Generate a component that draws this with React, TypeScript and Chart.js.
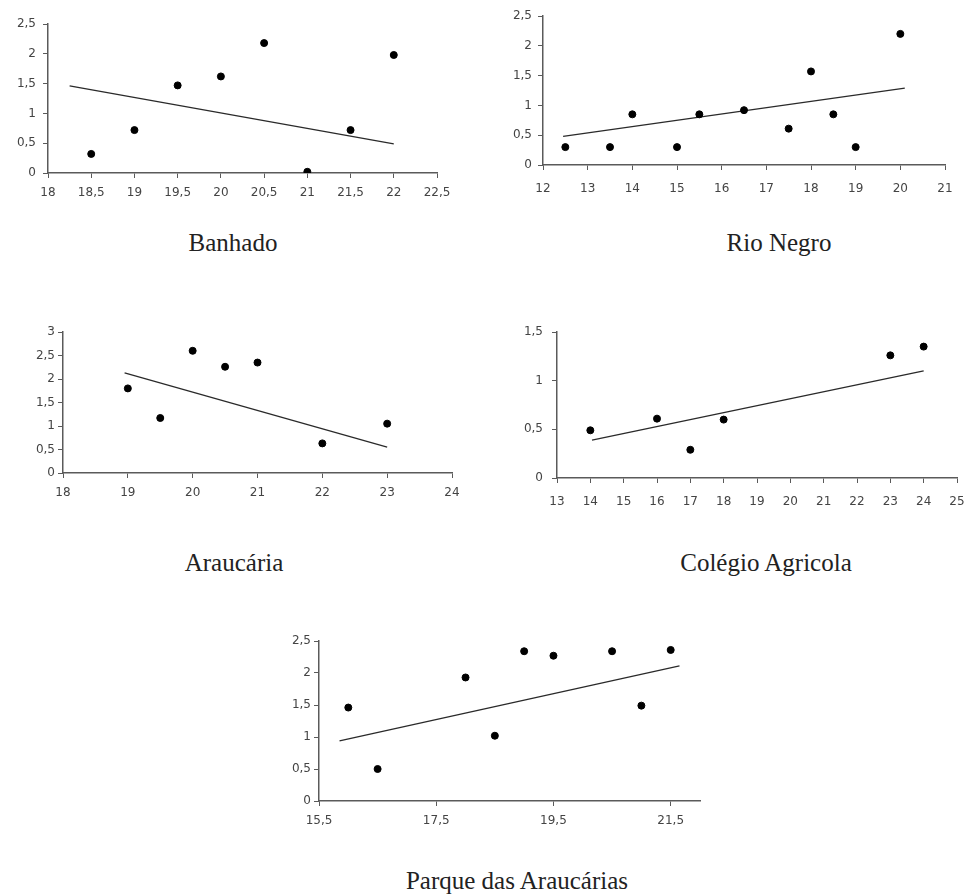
import React, { useEffect, useRef } from "react";
import { Chart, registerables } from "chart.js";

Chart.register(...registerables);

// ---------- Data ----------
// Banhado
const banhadoX = [18.5, 19, 19.5, 20, 20.5, 21, 21.5, 22];
const banhadoY = [0.32, 0.72, 1.47, 1.62, 2.18, 0.02, 0.72, 1.98];
const banhadoTrendX = [18.25, 22];
const banhadoTrendY = [1.46, 0.49];
const banhadoXTicks = [18, 18.5, 19, 19.5, 20, 20.5, 21, 21.5, 22, 22.5];
const banhadoYTicks = [0, 0.5, 1, 1.5, 2, 2.5];

// Rio Negro
const rioNegroX = [12.5, 13.5, 14, 15, 15.5, 16.5, 17.5, 18, 18.5, 19, 20];
const rioNegroY = [0.3, 0.3, 0.85, 0.3, 0.85, 0.92, 0.61, 1.57, 0.85, 0.3, 2.2];
const rioNegroTrendX = [12.45, 20.1];
const rioNegroTrendY = [0.48, 1.29];
const rioNegroXTicks = [12, 13, 14, 15, 16, 17, 18, 19, 20, 21];
const rioNegroYTicks = [0, 0.5, 1, 1.5, 2, 2.5];

// Araucária
const araucariaX = [19, 19.5, 20, 20.5, 21, 22, 23];
const araucariaY = [1.8, 1.17, 2.6, 2.26, 2.35, 0.63, 1.05];
const araucariaTrendX = [18.95, 23.0];
const araucariaTrendY = [2.13, 0.55];
const araucariaXTicks = [18, 19, 20, 21, 22, 23, 24];
const araucariaYTicks = [0, 0.5, 1, 1.5, 2, 2.5, 3];

// Colégio Agrícola
const colegioX = [14, 16, 17, 18, 23, 24];
const colegioY = [0.49, 0.61, 0.29, 0.6, 1.26, 1.35];
const colegioTrendX = [14.05, 24.0];
const colegioTrendY = [0.39, 1.1];
const colegioXTicks = [13, 14, 15, 16, 17, 18, 19, 20, 21, 22, 23, 24, 25];
const colegioYTicks = [0, 0.5, 1, 1.5];

// Parque das Araucárias
const parqueX = [16, 16.5, 18, 18.5, 19, 19.5, 20.5, 21, 21.5];
const parqueY = [1.46, 0.5, 1.93, 1.02, 2.34, 2.27, 2.34, 1.49, 2.36];
const parqueTrendX = [15.85, 21.65];
const parqueTrendY = [0.94, 2.11];
const parqueXTicks = [15.5, 17.5, 19.5, 21.5];
const parqueXRange = [15.5, 22];
const parqueYTicks = [0, 0.5, 1, 1.5, 2, 2.5];

// ---------- Layout ----------
const YW = 45; // fixed y-axis width
const XH = 34; // fixed x-axis height
const PT = 10; // top padding

type Panel = {
  title: string;
  xs: number[];
  ys: number[];
  tx: number[];
  ty: number[];
  xTicks: number[];
  yTicks: number[];
  xRange?: number[];
  area: [number, number, number, number]; // left, top, right, bottom of plot area
  padRight: number;
  xLabelPad: number;
  yLabelPad: number;
  captionX: number;
  captionY: number;
};

const panels: Panel[] = [
  {
    title: "Banhado",
    xs: banhadoX, ys: banhadoY, tx: banhadoTrendX, ty: banhadoTrendY,
    xTicks: banhadoXTicks, yTicks: banhadoYTicks,
    area: [48, 24, 437, 173], padRight: 14, xLabelPad: 8, yLabelPad: 7,
    captionX: 233, captionY: 243,
  },
  {
    title: "Rio Negro",
    xs: rioNegroX, ys: rioNegroY, tx: rioNegroTrendX, ty: rioNegroTrendY,
    xTicks: rioNegroXTicks, yTicks: rioNegroYTicks,
    area: [543, 16, 945, 165], padRight: 12, xLabelPad: 12, yLabelPad: 6,
    captionX: 779, captionY: 243,
  },
  {
    title: "Araucária",
    xs: araucariaX, ys: araucariaY, tx: araucariaTrendX, ty: araucariaTrendY,
    xTicks: araucariaXTicks, yTicks: araucariaYTicks,
    area: [63, 332, 452, 473], padRight: 12, xLabelPad: 8, yLabelPad: 3,
    captionX: 234, captionY: 563,
  },
  {
    title: "Colégio Agricola",
    xs: colegioX, ys: colegioY, tx: colegioTrendX, ty: colegioTrendY,
    xTicks: colegioXTicks, yTicks: colegioYTicks,
    area: [557, 332, 957, 478], padRight: 9, xLabelPad: 12, yLabelPad: 9,
    captionX: 766, captionY: 563,
  },
  {
    title: "Parque das Araucárias",
    xs: parqueX, ys: parqueY, tx: parqueTrendX, ty: parqueTrendY,
    xTicks: parqueXTicks, yTicks: parqueYTicks, xRange: parqueXRange,
    area: [319, 641, 700, 801], padRight: 14, xLabelPad: 8, yLabelPad: 3,
    captionX: 517, captionY: 881,
  },
];

const fmt = (v: number | string) => String(v).replace(".", ",");

const AXIS_COLOR = "#5a5a5a";
const TICK_FONT = { family: "'DejaVu Sans', Verdana, sans-serif", size: 12 };

function ScatterPanel({ p }: { p: Panel }) {
  const ref = useRef<HTMLCanvasElement>(null);
  const [l, t, r, b] = p.area;
  const left = l - YW;
  const top = t - PT;
  const width = r - left + p.padRight;
  const height = b - top + XH;

  useEffect(() => {
    if (!ref.current) return;
    const xMin = p.xRange ? p.xRange[0] : p.xTicks[0];
    const xMax = p.xRange ? p.xRange[1] : p.xTicks[p.xTicks.length - 1];
    const chart = new Chart(ref.current, {
      type: "scatter",
      data: {
        datasets: [
          {
            data: p.xs.map((x, i) => ({ x, y: p.ys[i] })),
            backgroundColor: "#000",
            borderColor: "#000",
            pointRadius: 3.5,
            pointHoverRadius: 3.5,
            showLine: false,
          },
          {
            data: p.tx.map((x, i) => ({ x, y: p.ty[i] })),
            borderColor: "#2a2a2a",
            borderWidth: 1.3,
            pointRadius: 0,
            showLine: true,
            fill: false,
          },
        ],
      },
      options: {
        animation: false,
        responsive: false,
        maintainAspectRatio: false,
        events: [],
        layout: { padding: { top: PT, right: p.padRight, left: 0, bottom: 0 } },
        plugins: { legend: { display: false }, tooltip: { enabled: false }, title: { display: false } },
        scales: {
          x: {
            type: "linear",
            min: xMin,
            max: xMax,
            afterBuildTicks: (scale: any) => {
              scale.ticks = p.xTicks.map((v) => ({ value: v }));
            },
            afterFit: (scale: any) => {
              scale.height = XH;
              scale.paddingLeft = 0;
              scale.paddingRight = 0;
            },
            grid: {
              display: true,
              drawOnChartArea: false,
              drawTicks: true,
              tickLength: 5,
              color: AXIS_COLOR,
            },
            border: { display: true, color: AXIS_COLOR, width: 1.5 },
            ticks: {
              autoSkip: false,
              maxRotation: 0,
              padding: p.xLabelPad,
              color: "#444",
              font: TICK_FONT,
              callback: (v: any) => fmt(v),
            },
          },
          y: {
            type: "linear",
            min: p.yTicks[0],
            max: p.yTicks[p.yTicks.length - 1],
            afterBuildTicks: (scale: any) => {
              scale.ticks = p.yTicks.map((v) => ({ value: v }));
            },
            afterFit: (scale: any) => {
              scale.width = YW;
              scale.paddingTop = 0;
              scale.paddingBottom = 0;
            },
            grid: {
              display: true,
              drawOnChartArea: false,
              drawTicks: true,
              tickLength: 5,
              color: AXIS_COLOR,
            },
            border: { display: true, color: AXIS_COLOR, width: 1.5 },
            ticks: {
              autoSkip: false,
              padding: p.yLabelPad,
              color: "#444",
              font: TICK_FONT,
              callback: (v: any) => fmt(v),
            },
          },
        },
      },
    } as any);
    return () => chart.destroy();
  }, []);

  return (
    <>
      <canvas
        ref={ref}
        width={width}
        height={height}
        style={{ position: "absolute", left, top, width, height }}
      />
      <div
        style={{
          position: "absolute",
          left: p.captionX - 150,
          width: 300,
          top: p.captionY - 15,
          height: 30,
          lineHeight: "30px",
          textAlign: "center",
          fontFamily: "'Liberation Serif', 'Times New Roman', serif",
          fontSize: 25,
          color: "#222",
          whiteSpace: "nowrap",
        }}
      >
        {p.title}
      </div>
    </>
  );
}

export default function App() {
  return (
    <div
      style={{
        position: "absolute",
        left: 0,
        top: 0,
        width: 967,
        height: 895,
        overflow: "hidden",
        background: "#fff",
      }}
    >
      {panels.map((p) => (
        <ScatterPanel key={p.title} p={p} />
      ))}
    </div>
  );
}
